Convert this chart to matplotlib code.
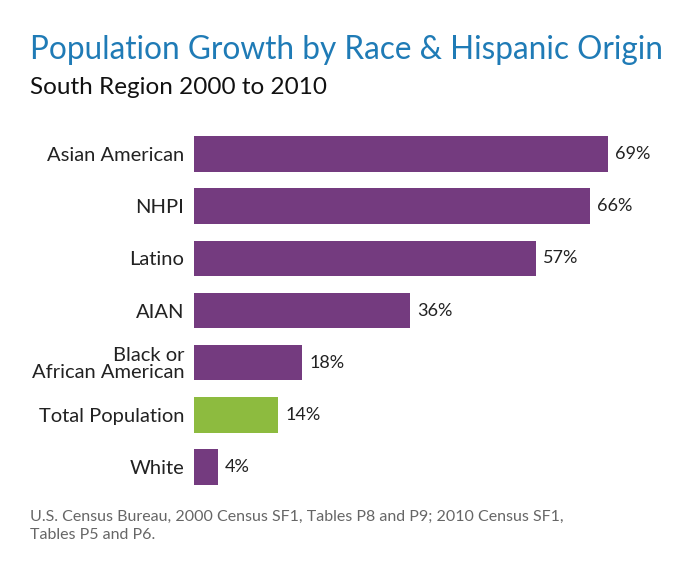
import matplotlib.pyplot as plt

categories = ["Asian American", "NHPI", "Latino", "AIAN",
              "Black or\nAfrican American", "Total Population", "White"]
growth = [69, 66, 57, 36, 18, 14, 4]
value_labels = ["69%", "66%", "57%", "36%", "18%", "14%", "4%"]

purple = "#743b7f"
green = "#8dbb3f"
colors = [green if c == "Total Population" else purple for c in categories]

plt.rcParams["font.family"] = ["Lato", "DejaVu Sans"]

fig = plt.figure(figsize=(6.95, 5.66), dpi=100)
ax = fig.add_axes([194 / 695, 1 - 493 / 566, 480 / 695, 365 / 566])

ypos = list(range(len(categories)))
ax.barh(ypos, growth, height=0.68, color=colors)
ax.set_xlim(0, 80)
ax.set_ylim(6.5, -0.5)

ax.set_yticks(ypos)
ax.set_yticklabels(categories, fontsize=14.5, color="#222222", linespacing=1.0)
ax.tick_params(axis="y", length=0, pad=7)
ax.set_xticks([])
for s in ax.spines.values():
    s.set_visible(False)

for y, v, lab in zip(ypos, growth, value_labels):
    ax.text(v + 1.2, y, lab, va="center", ha="left", fontsize=13, color="#222222")

fig.text(30 / 695, 1 - 50 / 566, "Population Growth by Race & Hispanic Origin",
         fontsize=22.7, color="#1f7bb6", va="center", ha="left")
fig.text(30 / 695, 1 - 87 / 566, "South Region 2000 to 2010",
         fontsize=17.5, color="#111111", va="center", ha="left")
fig.text(30 / 695, 1 - 526 / 566,
         "U.S. Census Bureau, 2000 Census SF1, Tables P8 and P9; 2010 Census SF1,\nTables P5 and P6.",
         fontsize=11.5, color="#666666", va="center", ha="left", linespacing=1.35)

fig.savefig("out.png", dpi=100)
